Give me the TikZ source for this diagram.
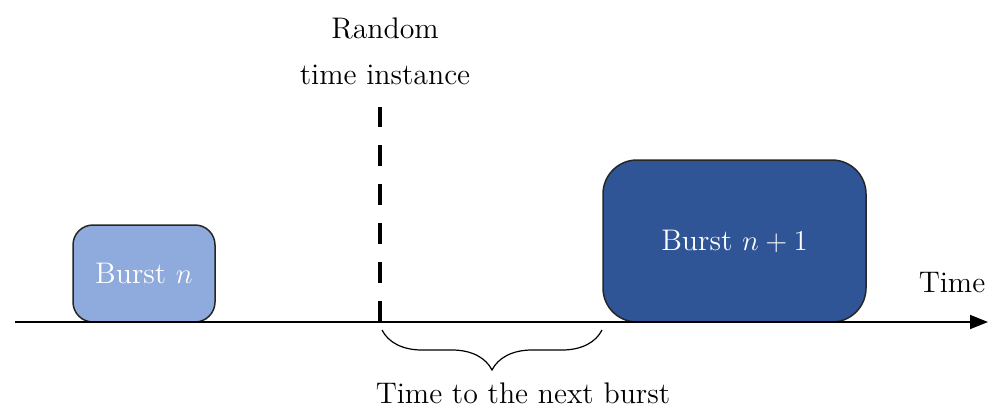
\documentclass[tikz,border=0pt]{standalone}
\usepackage{tikz}
\usetikzlibrary{arrows.meta,decorations.pathreplacing}
\definecolor{lightburst}{HTML}{8FAADC}
\definecolor{darkburst}{HTML}{2F5597}
\tikzset{
>={Triangle[length=9pt,width=7pt]},
burst/.style={draw=black!85,line width=0.75pt,text=white,inner sep=0pt},
asse/.style={->,line width=0.8pt},
istante/.style={line width=2.2pt,dash pattern=on 10.5pt off 9pt},
graffa/.style={decorate,decoration={brace,mirror,amplitude=20pt},line width=0.6pt}}

\begin{document}
\begin{tikzpicture}[x=0.5pt,y=0.5pt,font=\fontsize{14.9}{17}\selectfont]
\useasboundingbox (0,0) rectangle (994,409);

\coordinate (inizio) at (15,87);
\coordinate (fine) at (988,87);
\coordinate (top) at (380,302);
\coordinate (bottom) at (380,87);
\coordinate (b1) at (382,79);
\coordinate (b2) at (602,79);

\node[burst,fill=lightburst,rounded corners=10pt,minimum width=71pt,minimum height=48.5pt] (burst1) at (144,135.5) {Burst $n$};
\node[burst,fill=darkburst,rounded corners=17pt,minimum width=131.5pt,minimum height=81pt] (burst2) at (734.5,168) {Burst $n+1$};

\node (random) at (385,381) {Random};
\node (instance) at (385,334) {time instance};
\node (time) at (952,126) {Time};
\node (next) at (523,16) {Time to the next burst};

\draw[asse] (inizio) -- (fine);
\draw[istante] (bottom) -- (top);
\draw[graffa] (b1) -- (b2);

\end{tikzpicture}
\end{document}
